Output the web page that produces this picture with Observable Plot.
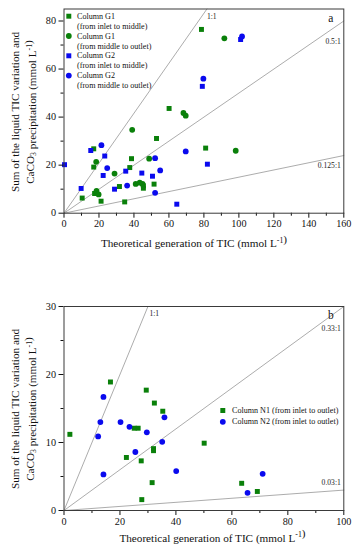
<!DOCTYPE html>
<html>
<head>
<meta charset="utf-8">
<script src="https://cdn.jsdelivr.net/npm/d3@7"></script>
<script src="https://cdn.jsdelivr.net/npm/@observablehq/plot@0.6"></script>
<style>
  html, body { margin: 0; padding: 0; background: #fff; }
  svg { display: block; }
</style>
</head>
<body>
<div id="chart"></div>
<script>
// ---------------- DATA ----------------
// Panel a
const g1InletMiddle = [[10.4,6.3],[17.5,8.2],[21.2,5.0],[34.7,4.7],[17,26.8],[17,19.2],[31.7,11.1],[37.6,19],[38.6,22.7],[45.4,11.4],[45.4,10.4],[52.9,31.1],[51.5,12.1],[78.6,76.5],[60.1,43.6],[81,27.1]];
const g1MiddleOutlet = [[18.6,9.3],[19.8,7.8],[18.4,21.4],[28.9,16.5],[39,34.7],[41,12.2],[43.3,12.7],[44.9,12.2],[48.7,22.7],[91.7,72.8],[68.3,41.7],[69.6,40.6],[98.2,26]];
const g2InletMiddle = [[0.3,20.2],[9.8,10.3],[15.3,26.1],[23.3,23.8],[22.4,15.7],[28.9,10],[35.3,17.5],[44.5,16.7],[50.6,15.4],[101,72.3],[79.1,52.8],[82,20.4],[64.5,3.75]];
const g2MiddleOutlet = [[21.4,28.3],[24.7,18.8],[36.1,11.5],[52.1,22.9],[55,17.8],[52.1,8.5],[101.8,73.6],[79.7,56],[69.6,25.7]];
const ratiosA = [{label:"1:1", slope:1.04}, {label:"0.5:1", slope:0.5}, {label:"0.125:1", slope:0.15}];
const xTicksA = [0,20,40,60,80,100,120,140,160];
const xMinorA = [10,30,50,70,90,110,130,150];
const yTicksA = [0,20,40,60,80];
const yMinorA = [10,30,50,70];
const legendA = [
  ["Column G1", "(from inlet to middle)"],
  ["Column G1", "(from middle to outlet)"],
  ["Column G2", "(from inlet to middle)"],
  ["Column G2", "(from middle to outlet)"]
];

// Panel b
const n1InletOutlet = [[2.1,11.2],[16.6,18.9],[25.1,12.1],[26.5,12.1],[22.3,7.8],[27.6,7.3],[32,9.1],[32,8.8],[31.5,4.1],[27.8,1.6],[29.4,17.7],[32.3,15.8],[35.3,14.6],[50.1,9.9],[63.5,4.0],[69.1,2.8]];
const n2InletOutlet = [[14.1,16.7],[13,13],[12.2,10.9],[14.1,5.3],[20.2,13],[23.4,12.3],[29.6,11.5],[25.5,8.6],[35.9,13.7],[35.1,10.1],[40.1,5.8],[71,5.4],[65.6,2.6]];
const ratiosB = [{label:"1:1", slope:1.0}, {label:"0.33:1", slope:0.3}, {label:"0.03:1", slope:0.03}];
const xTicksB = [0,20,40,60,80,100];
const xMinorB = [10,30,50,70,90];
const yTicksB = [0,10,20,30];
const yMinorB = [5,15,25];
const legendB = [["Column N1 (from inlet to outlet)"], ["Column N2 (from inlet to outlet)"]];

// ---------------- STYLES ----------------
const FONT = "'Liberation Serif', 'Times New Roman', serif";
const GREEN = "#0a800a";
const BLUE = "#0a0aee";
const styleSquareG = {symbol: "square", fill: GREEN, r: 2.8};
const styleCircleG = {symbol: "circle", fill: GREEN, r: 2.9};
const styleSquareB = {symbol: "square", fill: BLUE, r: 2.8};
const styleCircleB = {symbol: "circle", fill: BLUE, r: 2.9};
const LABEL_SIZE = 11.2;

function buildPanel(o) {
  const xmax = o.xDomain[1], ymax = o.yDomain[1];
  const lineRows = o.ratios.flatMap(r => {
    const xe = Math.min(xmax, ymax / r.slope);
    return [{k: r.label, x: 0, y: 0}, {k: r.label, x: xe, y: r.slope * xe}];
  });
  const marks = [
    Plot.line(lineRows, {x: "x", y: "y", z: "k", stroke: "#a3a3a3", strokeWidth: 0.9}),
  ];
  o.ratios.forEach((r, i) => {
    const p = o.ratioLabelPlace[i];
    const xe = Math.min(xmax, ymax / r.slope);
    marks.push(Plot.text([r], {
      x: () => xe, y: () => r.slope * xe, text: d => d.label,
      textAnchor: p.anchor, lineAnchor: "middle", dx: p.dx, dy: p.dy,
      fontSize: 7.6, fill: "#222"
    }));
  });
  o.series.forEach(s => {
    marks.push(Plot.dot(s.data, {x: d => d[0], y: d => d[1], ...s.style}));
  });
  marks.push(
    Plot.axisX({ticks: o.xTicks, tickSize: 5, tickPadding: 2, label: null, tickFormat: d => String(d)}),
    Plot.axisX({ticks: o.xMinor, tickSize: 3, label: null, tickFormat: () => ""}),
    Plot.axisY({ticks: o.yTicks, tickSize: 5, tickPadding: 3, label: null, tickFormat: d => String(d)}),
    Plot.axisY({ticks: o.yMinor, tickSize: 3, label: null, tickFormat: () => ""}),
    Plot.frame({stroke: "#3a3a3a", strokeWidth: 1})
  );
  marks.push(Plot.text([o.tag], {frameAnchor: "top-right", text: d => d, dx: -13, dy: o.tagDy,
    textAnchor: "middle", lineAnchor: "middle", fontSize: 11.5, fill: "#111"}));
  o.legend.forEach((lines, i) => {
    const L = o.legendPlace;
    const dy = L.dy + i * L.step;
    marks.push(Plot.dot([0], {frameAnchor: "top-left", dx: L.dotDx, dy, ...o.series[i].style}));
    lines.forEach((t, j) => {
      marks.push(Plot.text([t], {frameAnchor: "top-left", text: d => d, dx: L.textDx, dy: dy + j * 10,
        textAnchor: "start", lineAnchor: "middle", fontSize: 8.1, fill: "#111"}));
    });
  });

  const svg = Plot.plot({
    width: 362, height: o.height,
    marginLeft: 63.5, marginRight: 18.7, marginTop: o.marginTop, marginBottom: o.marginBottom,
    x: {domain: o.xDomain},
    y: {domain: o.yDomain},
    style: {fontFamily: FONT, fontSize: "10.2px", color: "#111", background: "#fff", overflow: "visible"},
    marks
  });

  const s = d3.select(svg);
  const rich = (sel, parts) => {
    parts.forEach(p => {
      if (p.sub) { sel.append("tspan").attr("dy", 2.4).attr("font-size", 7.8).text(p.t); sel.append("tspan").attr("dy", -2.4).text(""); }
      else if (p.sup) { sel.append("tspan").attr("dy", -4.2).attr("font-size", 7.8).text(p.t); sel.append("tspan").attr("dy", 4.2).text(""); }
      else sel.append("tspan").text(p.t);
    });
  };
  const xl = s.append("text").attr("x", o.xLabelX).attr("y", o.xLabelY)
    .attr("text-anchor", "middle").attr("font-size", LABEL_SIZE).attr("fill", "#111")
    .attr("font-family", FONT);
  rich(xl, [{t: "Theoretical generation of TIC (mmol L"}, {t: "-1", sup: true}, {t: ")"}]);
  const y1 = s.append("text").attr("transform", `translate(18.8,${o.yLabelY}) rotate(-90)`)
    .attr("text-anchor", "middle").attr("font-size", LABEL_SIZE).attr("fill", "#111").attr("font-family", FONT);
  rich(y1, [{t: "Sum of the liquid TIC variation and"}]);
  const y2 = s.append("text").attr("transform", `translate(33.8,${o.yLabelY}) rotate(-90)`)
    .attr("text-anchor", "middle").attr("font-size", LABEL_SIZE).attr("fill", "#111").attr("font-family", FONT);
  rich(y2, [{t: "CaCO"}, {t: "3", sub: true}, {t: " precipitation (mmol L"}, {t: "-1", sup: true}, {t: ")"}]);
  return svg;
}

const chart = document.getElementById("chart");
chart.append(buildPanel({
  xDomain: [0, 160], yDomain: [0, 85],
  xTicks: xTicksA, xMinor: xMinorA, yTicks: yTicksA, yMinor: yMinorA,
  height: 270, marginTop: 8.5, marginBottom: 57.3,
  series: [
    {data: g1InletMiddle, style: styleSquareG},
    {data: g1MiddleOutlet, style: styleCircleG},
    {data: g2InletMiddle, style: styleSquareB},
    {data: g2MiddleOutlet, style: styleCircleB}
  ],
  ratios: ratiosA,
  ratioLabelPlace: [{anchor: "start", dx: 0, dy: 7.5}, {anchor: "end", dx: -3, dy: 21}, {anchor: "end", dx: -3, dy: 10}],
  legend: legendA,
  legendPlace: {dotDx: 4.8, textDx: 13, dy: 7.2, step: 19.8},
  tag: "a", tagDy: 9.5,
  xLabelX: 194, xLabelY: 247, yLabelY: 112
}));
chart.append(buildPanel({
  xDomain: [0, 100], yDomain: [0, 30],
  xTicks: xTicksB, xMinor: xMinorB, yTicks: yTicksB, yMinor: yMinorB,
  height: 280, marginTop: 36, marginBottom: 40,
  series: [
    {data: n1InletOutlet, style: styleSquareG},
    {data: n2InletOutlet, style: styleCircleB}
  ],
  ratios: ratiosB,
  ratioLabelPlace: [{anchor: "start", dx: 1.5, dy: 7}, {anchor: "end", dx: -3, dy: 22}, {anchor: "end", dx: -3, dy: -8}],
  legend: legendB,
  legendPlace: {dotDx: 158.8, textDx: 168, dy: 104, step: 11.3},
  tag: "b", tagDy: 9,
  xLabelX: 212.5, xLabelY: 271.5, yLabelY: 139
}));
</script>
</body>
</html>
